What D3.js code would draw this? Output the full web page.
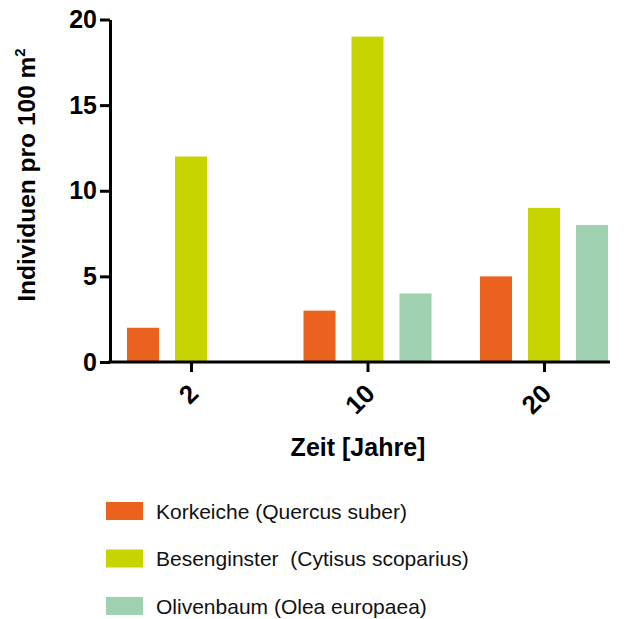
<!DOCTYPE html>
<html><head><meta charset="utf-8">
<script src="https://cdn.jsdelivr.net/npm/d3@7"></script>
<style>
body{margin:0;background:#fff;}
svg{display:block;font-family:"Liberation Sans",Arial,Helvetica,sans-serif;}
</style></head>
<body><svg id="c" width="634" height="619"></svg>
<script>
const categories = ["2", "10", "20"];
const seriesNames = ["Korkeiche (Quercus suber)", "Besenginster  (Cytisus scoparius)", "Olivenbaum (Olea europaea)"];
const korkeiche = [2, 3, 5];
const besenginster = [12, 19, 9];
const olivenbaum = [0, 4, 8];
const yTicks = [0, 5, 10, 15, 20];
const colors = ["#EB621E", "#C8D400", "#9FD0B0"];
const seriesValues = [korkeiche, besenginster, olivenbaum];

const svg = d3.select("#c");
const y = d3.scaleLinear().domain([0, 20]).range([362, 19.5]);
const x = d3.scalePoint().domain(categories).range([191, 544]);
const xs = d3.scaleBand().domain(d3.range(seriesNames.length)).range([-64, 64]).paddingInner(1/3).paddingOuter(0);

// bars
seriesValues.forEach((vals, si) => {
  svg.append("g").selectAll("rect").data(vals.map((v, i) => ({v, c: categories[i]})).filter(d => d.v > 0))
    .join("rect")
    .attr("x", d => x(d.c) + xs(si))
    .attr("width", xs.bandwidth())
    .attr("y", d => y(d.v))
    .attr("height", d => y(0) - y(d.v))
    .attr("fill", colors[si]);
});

// y axis
const ya = svg.append("g").attr("transform", "translate(110,0)")
  .call(d3.axisLeft(y).tickValues(yTicks).tickSize(10).tickPadding(3).tickSizeOuter(0));
ya.select(".domain").attr("stroke", "#000").attr("stroke-width", 3);
ya.selectAll(".tick line").attr("stroke", "#000").attr("stroke-width", 3);
ya.selectAll(".tick text").attr("font-size", 25).attr("font-weight", "bold").attr("fill", "#000")
  .attr("font-family", "Liberation Sans, Arial, sans-serif");

// x axis
const xa = svg.append("g").attr("transform", `translate(0,${y(0)})`)
  .call(d3.axisBottom(x).tickSize(10).tickSizeOuter(0));
xa.select(".domain").remove();
xa.append("line").attr("x1", 108.5).attr("x2", 610).attr("y1", 0).attr("y2", 0)
  .attr("stroke", "#000").attr("stroke-width", 3);
xa.selectAll(".tick line").attr("stroke", "#000").attr("stroke-width", 3);
xa.selectAll(".tick text")
  .attr("font-size", 26).attr("font-weight", "bold").attr("fill", "#000")
  .attr("font-family", "Liberation Sans, Arial, sans-serif")
  .attr("text-anchor", "end").attr("dominant-baseline", "central")
  .attr("y", 0).attr("dy", 0)
  .attr("transform", "translate(2,27) rotate(-45)");

// axis titles
svg.append("text").attr("x", 358).attr("y", 456).attr("text-anchor", "middle")
  .attr("font-size", 25).attr("font-weight", "bold").text("Zeit [Jahre]");

const yt = svg.append("text").attr("transform", "translate(35,175) rotate(-90)")
  .attr("text-anchor", "middle").attr("font-size", 24.5).attr("font-weight", "bold");
yt.append("tspan").text("Individuen pro 100 m");
yt.append("tspan").attr("font-size", 15).attr("dy", -10).text("2");

// legend
const lg = svg.append("g");
seriesNames.forEach((n, i) => {
  const gy = 502 + i * 47.5;
  lg.append("rect").attr("x", 106).attr("y", gy).attr("width", 37).attr("height", 18).attr("fill", colors[i]);
  lg.append("text").attr("x", 156).attr("y", gy + 16.5).attr("font-size", 21).attr("fill", "#111")
    .style("white-space", "pre").text(n);
});
</script></body></html>
